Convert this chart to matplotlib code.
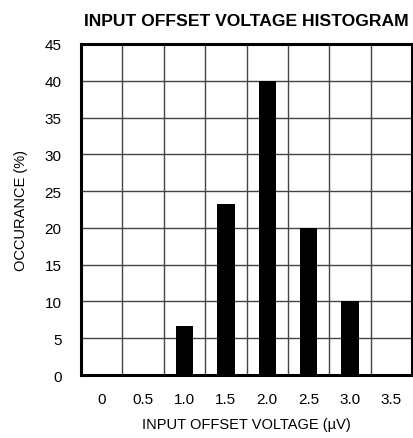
import numpy as np
import matplotlib.pyplot as plt

plt.rcParams['font.family'] = ['Liberation Sans', 'DejaVu Sans']

# histogram bins (uV) and occurrence (%)
binLabels = ["0", "0.5", "1.0", "1.5", "2.0", "2.5", "3.0", "3.5"]
occurrence = [0, 0, 6.6, 23.3, 40, 20, 10, 0]
yTicks = [0, 5, 10, 15, 20, 25, 30, 35, 40, 45]

fig = plt.figure(figsize=(4.13, 4.39), dpi=100)
ax = fig.add_axes([0.196, 0.1435, 0.802, 0.754])

pos = np.arange(len(binLabels))
ax.bar(pos, occurrence, width=0.42, color="black", zorder=3)

ax.set_xlim(-0.5, len(binLabels) - 0.5)
ax.set_ylim(0, 45)
ax.set_xticks(pos)
ax.set_xticklabels(binLabels)
ax.set_xticks(pos[:-1] + 0.5, minor=True)
ax.set_yticks(yTicks)
ax.tick_params(axis="both", which="both", length=0, labelsize=11)
ax.tick_params(axis="x", pad=12)
ax.tick_params(axis="y", pad=14)

ax.grid(True, axis="x", which="minor", color="#444444", linewidth=1, zorder=1)
ax.grid(True, axis="y", which="major", color="#444444", linewidth=1, zorder=1)
for sp in ax.spines.values():
    sp.set_linewidth(2.2)
    sp.set_zorder(4)

ax.set_title("INPUT OFFSET VOLTAGE HISTOGRAM", fontsize=12.6, fontweight="bold", pad=14)
ax.set_xlabel("INPUT OFFSET VOLTAGE (\u00b5V)", fontsize=10.5, labelpad=8)
ax.set_ylabel("OCCURANCE (%)", fontsize=10.5, labelpad=12)

fig.savefig("out.png", dpi=100)
